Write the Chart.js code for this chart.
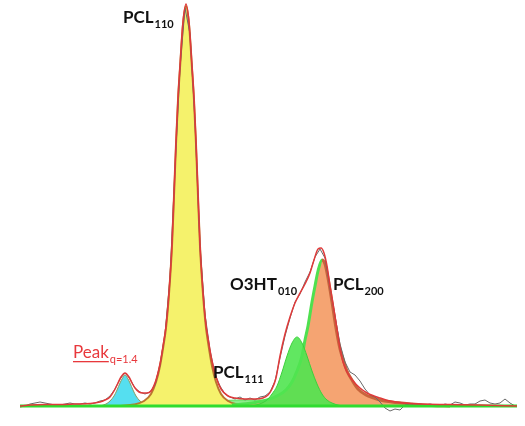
<!DOCTYPE html>
<html>
<head>
<meta charset="utf-8">
<title>Peak fit</title>
<script src="https://cdn.jsdelivr.net/npm/chart.js@4.4.1/dist/chart.umd.min.js"></script>
<style>
  html, body { margin: 0; padding: 0; background: #fff; }
  canvas { display: block; }
</style>
</head>
<body>
<canvas id="fitChart" width="525" height="426"></canvas>
<script>
// Measured profile (channel, intensity)
const rawX = [20, 25, 30, 35, 40, 45, 50, 55, 60, 65, 70, 75, 80, 85, 90, 95, 100, 105, 110, 115, 120, 125, 130, 135, 140, 145, 150, 155, 160, 165, 170, 175, 180, 185, 190, 195, 200, 205, 210, 215, 220, 225, 230, 235, 240, 245, 250, 255, 260, 265, 270, 275, 280, 285, 290, 295, 300, 305, 310, 315, 320, 325, 330, 335, 340, 345, 350, 355, 360, 365, 370, 375, 380, 385, 390, 395, 400, 405, 410, 415, 420, 425, 430, 435, 440, 445, 450, 455, 460, 465, 470, 475, 480, 485, 490, 495, 500, 505, 510, 515];
const rawY = [-1, 0, 2, 3, 4, 3, 2, 1, 1, 2, 3, 2, 2, 3, 2, 3, 5, 6, 10, 17, 27, 33, 27, 18, 14, 12, 14, 21, 41, 72, 128, 238, 338, 398, 372, 285, 160, 92, 56, 32, 20, 12, 9, 7, 9, 6, 8, 6, 9, 10, 14, 25, 48, 70, 88, 104, 112, 124, 134, 149, 157, 148, 118, 90, 62, 44, 34, 31, 25, 17, 11, 9, 4, -2, -5, -3, -4, 1, 2, 1, 2, 1, 2, 1, 0, 2, 1, 4, 3, 1, 2, 2, 5, 6, 3, 2, 3, 7, 3, 0];

// Cumulative fit
const fitX = [20, 30, 45, 60, 75, 90, 100, 105, 110, 114, 118, 121, 125, 129, 132, 135, 139, 143, 147, 151, 156, 160, 164, 166, 169, 172, 174, 176, 178, 180, 183, 186, 189, 192, 194, 196, 198, 200, 203, 206, 208, 212, 216, 221, 228, 235, 245, 255, 263, 268, 272, 276, 280, 285, 290, 295, 300, 305, 310, 314, 318, 321, 324, 327, 330, 334, 337, 340, 343, 347, 353, 360, 367, 374, 380, 390, 403, 420, 450, 480, 517];
const fitY = [0, 1, 1.5, 1.5, 2, 2.5, 4, 6, 9, 15, 23, 29, 33, 29, 23, 18, 14, 13, 13, 15, 26, 42, 66, 80, 114, 162, 212, 264, 308, 340, 384, 402, 384, 340, 308, 264, 212, 162, 114, 81, 68, 45, 29, 17, 10, 8, 7, 7, 8, 11, 17, 28, 50, 72, 89, 103, 113, 122, 133, 146, 157, 158, 153, 140, 120, 96, 77, 58, 44, 34, 25, 18, 13, 10, 8, 5, 3, 2, 1.5, 1, 0];

// Fitted components
const peakQX = [100, 106, 110, 114, 117, 120, 122, 125, 128, 130, 133, 136, 140, 144, 150];
const peakQY = [0, 2, 5, 10, 16, 23, 27, 31, 27, 23, 16, 10, 5, 2, 0];

const pcl110X = [121, 134, 144, 151, 156, 160, 164, 166, 169, 172, 174, 176, 178, 180, 183, 186, 189, 192, 194, 196, 198, 200, 203, 206, 208, 212, 216, 221, 228, 238, 251];
const pcl110Y = [0, 1.5, 5, 12, 24, 40, 64, 78, 112, 160, 210, 262, 306, 338, 382, 400, 382, 338, 306, 262, 210, 160, 112, 78, 64, 40, 24, 12, 5, 1.5, 0];

const pcl111X = [100, 120, 150, 180, 210, 240, 260, 280, 300, 330, 360, 390, 410];
const pcl111Y = [0, 1, 2, 4, 5, 6, 6, 5, 4, 3, 2, 1, 0];

const o3htX = [250, 258, 264, 268, 272, 277, 282, 287, 292, 297, 302, 307, 312, 317, 322, 327, 332, 340, 350];
const o3htY = [0, 1.5, 4, 7, 12, 20, 34, 50, 63, 69, 63, 50, 35, 22, 12, 6, 3, 0.5, 0];

const pcl200X = [232, 252, 267, 277, 286, 292, 297, 302, 305, 308, 312, 315, 318, 322, 325, 328, 332, 336, 340, 344, 347, 352, 358, 366, 374, 380, 392, 412, 432, 450];
const pcl200Y = [1, 3, 6, 10, 16, 24, 35, 50, 66, 80, 104, 120, 135, 146, 142, 128, 104, 78, 57, 44, 35, 26, 17, 11, 8, 6, 4, 2, 0.5, 0];

const baseX = [20, 517];
const baseY = [0, 0];

const peakLabels = [
  { text: 'PCL', sub: '110', x: 123, y: 383, color: '#111', weight: 'bold' },
  { text: 'Peak', sub: 'q=1.4', x: 73, y: 48, color: '#e8383c', weight: 'normal', underline: true },
  { text: 'PCL', sub: '111', x: 213, y: 28, color: '#111', weight: 'bold' },
  { text: 'O3HT', sub: '010', x: 230, y: 116, color: '#111', weight: 'bold' },
  { text: 'PCL', sub: '200', x: 333, y: 116, color: '#111', weight: 'bold' }
];

function toPoints(xs, ys) {
  return xs.map((x, i) => ({ x: x, y: ys[i] }));
}

const labelPlugin = {
  id: 'peakLabels',
  afterDatasetsDraw(chart) {
    const { ctx, scales } = chart;
    ctx.save();
    ctx.textBaseline = 'alphabetic';
    peakLabels.forEach(l => {
      const px = scales.x.getPixelForValue(l.x);
      const py = scales.y.getPixelForValue(l.y);
      ctx.fillStyle = l.color;
      ctx.font = l.weight + ' 17px Lato';
      ctx.fillText(l.text, px, py);
      const w = ctx.measureText(l.text).width;
      if (l.underline) ctx.fillRect(px, py + 3, w, 1.3);
      ctx.font = l.weight + ' 11px Lato';
      ctx.fillText(l.sub, px + w + 1, py + 5);
    });
    ctx.restore();
  }
};

const ctx = document.getElementById('fitChart').getContext('2d');
new Chart(ctx, {
  type: 'line',
  data: {
    datasets: [
      {
        label: 'Fit',
        data: toPoints(fitX, fitY),
        borderColor: '#e03a3a',
        borderWidth: 1.5,
        fill: false,
        cubicInterpolationMode: 'monotone',
        order: 1
      },
      {
        label: 'Baseline',
        data: toPoints(baseX, baseY),
        borderColor: '#2fdc2f',
        borderWidth: 3,
        fill: false,
        order: 2
      },
      {
        label: 'Data',
        data: toPoints(rawX, rawY),
        borderColor: '#6a6a6a',
        borderWidth: 1,
        fill: false,
        tension: 0,
        order: 3
      },
      {
        label: 'O3HT 010',
        data: toPoints(o3htX, o3htY),
        borderColor: '#3ccf3c',
        backgroundColor: 'rgba(80, 228, 80, 0.9)',
        borderWidth: 1,
        fill: 'origin',
        cubicInterpolationMode: 'monotone',
        order: 4
      },
      {
        label: 'PCL 200',
        data: toPoints(pcl200X, pcl200Y),
        backgroundColor: '#f5a472',
        borderWidth: 3,
        segment: {
          borderColor: c => c.p0.parsed.x < 322 ? '#4fe04f' : '#c8643c'
        },
        fill: 'origin',
        cubicInterpolationMode: 'monotone',
        order: 5
      },
      {
        label: 'PCL 110',
        data: toPoints(pcl110X, pcl110Y),
        borderColor: '#bb762e',
        backgroundColor: '#f5f26c',
        borderWidth: 2,
        fill: 'origin',
        cubicInterpolationMode: 'monotone',
        order: 6
      },
      {
        label: 'Peak q=1.4',
        data: toPoints(peakQX, peakQY),
        borderColor: '#8a9a60',
        backgroundColor: '#55dff0',
        borderWidth: 1,
        fill: 'origin',
        cubicInterpolationMode: 'monotone',
        order: 7
      },
      {
        label: 'PCL 111',
        data: toPoints(pcl111X, pcl111Y),
        borderColor: '#5fe05f',
        backgroundColor: 'rgba(110, 232, 110, 0.8)',
        borderWidth: 1,
        fill: 'origin',
        cubicInterpolationMode: 'monotone',
        order: 8
      }
    ]
  },
  options: {
    responsive: false,
    animation: false,
    layout: { padding: 0 },
    elements: { point: { radius: 0 } },
    plugins: {
      legend: { display: false },
      tooltip: { enabled: false }
    },
    scales: {
      x: { type: 'linear', min: 0, max: 525, display: false },
      y: { type: 'linear', min: -20, max: 406, display: false }
    }
  },
  plugins: [labelPlugin]
});
</script>
</body>
</html>
